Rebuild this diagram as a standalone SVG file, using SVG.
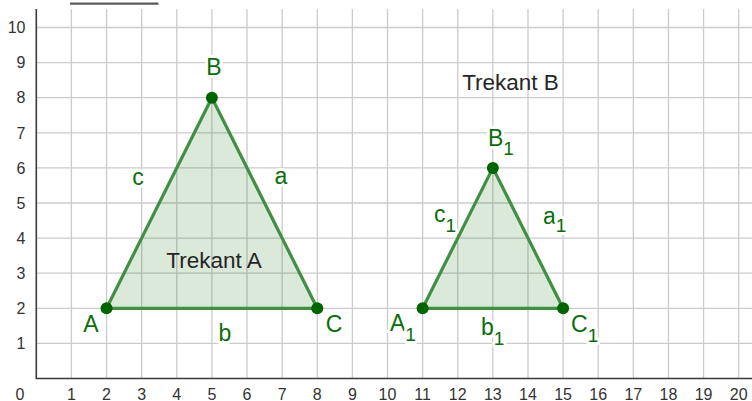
<svg xmlns="http://www.w3.org/2000/svg" width="752" height="401" viewBox="0 0 752 401">
<style>
.grid line{stroke:#cbcbcb;stroke-width:1.3}
.axis{stroke:#3a3a3a;stroke-width:1.6;fill:none}
.tick{font-family:"Liberation Sans",Arial,sans-serif;font-size:16px;fill:#333}
.tri{fill:#006400;fill-opacity:0.14;stroke:#418f41;stroke-width:3.2;stroke-linejoin:round}
.pt{fill:#006400}
.lbl{font-family:"Liberation Sans",Arial,sans-serif;font-size:23px;fill:#0b6d0b;stroke:#fff;stroke-width:6;stroke-linejoin:round;paint-order:stroke}
.sub{font-size:19px}
.title{font-family:"Liberation Sans",Arial,sans-serif;font-size:22.5px;fill:#262626}
</style>
<rect width="752" height="401" fill="#fff"/>
<line x1="70" y1="3.6" x2="158.5" y2="3.6" stroke="#5a5a5a" stroke-width="2.4"/>
<g class="grid">
<line x1="71.42" y1="9" x2="71.42" y2="378.5"/>
<line x1="106.54" y1="9" x2="106.54" y2="378.5"/>
<line x1="141.66" y1="9" x2="141.66" y2="378.5"/>
<line x1="176.78" y1="9" x2="176.78" y2="378.5"/>
<line x1="211.9" y1="9" x2="211.9" y2="378.5"/>
<line x1="247.02" y1="9" x2="247.02" y2="378.5"/>
<line x1="282.14" y1="9" x2="282.14" y2="378.5"/>
<line x1="317.26" y1="9" x2="317.26" y2="378.5"/>
<line x1="352.38" y1="9" x2="352.38" y2="378.5"/>
<line x1="387.5" y1="9" x2="387.5" y2="378.5"/>
<line x1="422.62" y1="9" x2="422.62" y2="378.5"/>
<line x1="457.74" y1="9" x2="457.74" y2="378.5"/>
<line x1="492.86" y1="9" x2="492.86" y2="378.5"/>
<line x1="527.98" y1="9" x2="527.98" y2="378.5"/>
<line x1="563.1" y1="9" x2="563.1" y2="378.5"/>
<line x1="598.22" y1="9" x2="598.22" y2="378.5"/>
<line x1="633.34" y1="9" x2="633.34" y2="378.5"/>
<line x1="668.46" y1="9" x2="668.46" y2="378.5"/>
<line x1="703.58" y1="9" x2="703.58" y2="378.5"/>
<line x1="738.7" y1="9" x2="738.7" y2="378.5"/>
<line x1="36.3" y1="343.4" x2="752" y2="343.4"/>
<line x1="36.3" y1="308.3" x2="752" y2="308.3"/>
<line x1="36.3" y1="273.2" x2="752" y2="273.2"/>
<line x1="36.3" y1="238.1" x2="752" y2="238.1"/>
<line x1="36.3" y1="203" x2="752" y2="203"/>
<line x1="36.3" y1="167.9" x2="752" y2="167.9"/>
<line x1="36.3" y1="132.8" x2="752" y2="132.8"/>
<line x1="36.3" y1="97.7" x2="752" y2="97.7"/>
<line x1="36.3" y1="62.6" x2="752" y2="62.6"/>
<line x1="36.3" y1="27.5" x2="752" y2="27.5"/>
</g>
<path class="axis" d="M36.3 9 V378.5 H752"/>
<g class="tick" text-anchor="end">
<text x="25.5" y="349.1">1</text>
<text x="25.5" y="314">2</text>
<text x="25.5" y="278.9">3</text>
<text x="25.5" y="243.8">4</text>
<text x="25.5" y="208.7">5</text>
<text x="25.5" y="173.6">6</text>
<text x="25.5" y="138.5">7</text>
<text x="25.5" y="103.4">8</text>
<text x="25.5" y="68.3">9</text>
<text x="25.5" y="33.2">10</text>
</g>
<g class="tick" text-anchor="middle">
<text x="20" y="400">0</text>
<text x="71.42" y="400">1</text>
<text x="106.54" y="400">2</text>
<text x="141.66" y="400">3</text>
<text x="176.78" y="400">4</text>
<text x="211.9" y="400">5</text>
<text x="247.02" y="400">6</text>
<text x="282.14" y="400">7</text>
<text x="317.26" y="400">8</text>
<text x="352.38" y="400">9</text>
<text x="387.5" y="400">10</text>
<text x="422.62" y="400">11</text>
<text x="457.74" y="400">12</text>
<text x="492.86" y="400">13</text>
<text x="527.98" y="400">14</text>
<text x="563.1" y="400">15</text>
<text x="598.22" y="400">16</text>
<text x="633.34" y="400">17</text>
<text x="668.46" y="400">18</text>
<text x="703.58" y="400">19</text>
<text x="738.7" y="400">20</text>
</g>
<g id="trekantA">
<polygon class="tri" points="106.54,308.3 211.9,97.7 317.26,308.3"/>
<text class="title" x="214" y="268" text-anchor="middle">Trekant A</text>
</g>
<g id="trekantB">
<polygon class="tri" points="422.62,308.3 492.86,167.9 563.1,308.3"/>
<text class="title" x="510.5" y="90" text-anchor="middle">Trekant B</text>
</g>
<g id="edge-labels">
<text class="lbl" x="138" y="185" text-anchor="middle">c</text>
<text class="lbl" x="281" y="183.5" text-anchor="middle">a</text>
<text class="lbl" x="225" y="341" text-anchor="middle">b</text>
<text class="lbl" x="434" y="222">c<tspan class="sub" y="231.5">1</tspan></text>
<text class="lbl" x="543" y="223.5">a<tspan class="sub" y="232">1</tspan></text>
<text class="lbl" x="481" y="335">b<tspan class="sub" y="345">1</tspan></text>
</g>
<g id="pA"><circle class="pt" cx="106.54" cy="308.3" r="6"/><text class="lbl" x="91" y="332" text-anchor="middle">A</text></g>
<g id="pB"><circle class="pt" cx="211.9" cy="97.7" r="6"/><text class="lbl" x="214" y="75" text-anchor="middle">B</text></g>
<g id="pC"><circle class="pt" cx="317.26" cy="308.3" r="6"/><text class="lbl" x="334" y="332" text-anchor="middle">C</text></g>
<g id="pA1"><circle class="pt" cx="422.62" cy="308.3" r="6"/><text class="lbl" x="390" y="331">A<tspan class="sub" y="340.5">1</tspan></text></g>
<g id="pB1"><circle class="pt" cx="492.86" cy="167.9" r="6"/><text class="lbl" x="488" y="146">B<tspan class="sub" y="155">1</tspan></text></g>
<g id="pC1"><circle class="pt" cx="563.1" cy="308.3" r="6"/><text class="lbl" x="571" y="332">C<tspan class="sub" y="341.5">1</tspan></text></g>
</svg>
